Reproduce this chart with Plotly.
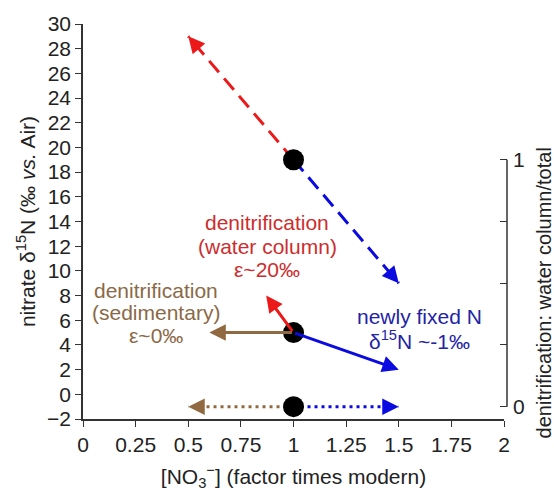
import math
import plotly.graph_objects as go

# Starting points: modern nitrate (factor 1) for three denitrification regimes
origin_x = [1, 1, 1]
origin_d15n = [19, 5, -1]

# Arrow end points (factor times modern, d15N) for each process
wc_denit_end = (0.5, 29)      # water-column denitrification, from the upper point
wc_fix_end = (1.5, 9)         # N fixation, from the upper point
mix_wc_end = (0.87, 8)        # water-column denitrification, mixed case
mix_sed_end = (0.6, 5)        # sedimentary denitrification, mixed case
mix_fix_end = (1.5, 2)        # N fixation, mixed case
sed_denit_end = (0.5, -1)     # sedimentary denitrification, lower point
sed_fix_end = (1.5, -1)       # N fixation, lower point

x_tickvals = [0, 0.25, 0.5, 0.75, 1, 1.25, 1.5, 1.75, 2]
x_ticktext = ["0", "0.25", "0.5", "0.75", "1", "1.25", "1.5", "1.75", "2"]
y_tickvals = list(range(-2, 31, 2))
frac_tickvals = [0, 0.25, 0.5, 0.75, 1]
frac_ticktext = ["0", "", "", "", "1"]

RED = "rgb(235,25,25)"
RED_TXT = "rgb(205,45,45)"
BLUE = "rgb(10,10,225)"
BLUE_TXT = "rgb(35,35,165)"
BROWN = "rgb(145,105,65)"
BROWN_TXT = "rgb(140,105,70)"
AXIS = "#333333"
FONT = "Liberation Sans, Arial, sans-serif"
FS = 21

# approximate pixels per data unit, used only to size the arrowhead stubs
PX_X, PX_Y = 210.0, 12.65

fig = go.Figure()
annotations = []


def arrow(start, end, color, dash=None):
    """Draw a line from start to end with an arrowhead at end."""
    if dash is not None:
        fig.add_trace(go.Scatter(
            x=[start[0], end[0]], y=[start[1], end[1]], mode="lines",
            line=dict(color=color, width=3, dash=dash),
            hoverinfo="skip", showlegend=False))
        # short stub so only the head is drawn at the tip
        length_px = math.hypot((end[0] - start[0]) * PX_X,
                               (end[1] - start[1]) * PX_Y)
        f = 11.0 / length_px
        back = (end[0] - f * (end[0] - start[0]),
                end[1] - f * (end[1] - start[1]))
    else:
        back = start
    annotations.append(dict(
        x=end[0], y=end[1], ax=back[0], ay=back[1],
        xref="x", yref="y", axref="x", ayref="y",
        text="", showarrow=True, arrowhead=2, arrowsize=1.1,
        arrowwidth=3, arrowcolor=color))


up = (origin_x[0], origin_d15n[0])
mid = (origin_x[1], origin_d15n[1])
low = (origin_x[2], origin_d15n[2])

DASH = "15px,8px"
DOT = "3px,4px"
arrow(up, wc_denit_end, RED, dash=DASH)
arrow(up, wc_fix_end, BLUE, dash=DASH)
arrow(mid, mix_wc_end, RED)
arrow(mid, mix_sed_end, BROWN)
arrow(mid, mix_fix_end, BLUE)
arrow(low, sed_denit_end, BROWN, dash=DOT)
arrow(low, sed_fix_end, BLUE, dash=DOT)

fig.add_trace(go.Scatter(
    x=origin_x, y=origin_d15n, mode="markers",
    marker=dict(color="black", size=21),
    hoverinfo="skip", showlegend=False))

# invisible trace carrying the right-hand axis
fig.add_trace(go.Scatter(
    x=[1, 1], y=[0, 1], yaxis="y2", mode="markers",
    marker=dict(opacity=0), hoverinfo="skip", showlegend=False))


def text_block(lines, x, y_top, color, spacing=1.9):
    for i, line in enumerate(lines):
        annotations.append(dict(
            x=x, y=y_top - i * spacing, xref="x", yref="y",
            text=line, showarrow=False,
            font=dict(family=FONT, size=FS, color=color)))


text_block(["denitrification", "(water column)", "ε~20‰"], 0.875, 13.9, RED_TXT)
text_block(["denitrification", "(sedimentary)", "ε~0‰"], 0.345, 8.4, BROWN_TXT, 1.8)
text_block(["newly fixed N", "δ<sup>15</sup>N ~-1‰"], 1.6, 6.3, BLUE_TXT)

# title of the right-hand axis, centred on its 0-1 span
annotations.append(dict(
    x=1.088, y=0.46, xref="paper", yref="y2", xanchor="center", yanchor="middle",
    text="denitrification: water column/total", textangle=-90, showarrow=False,
    font=dict(family=FONT, size=20, color="#222222")))

fig.update_layout(
    width=554, height=497,
    margin=dict(l=83, r=47, t=23, b=68),
    plot_bgcolor="white", paper_bgcolor="white",
    font=dict(family=FONT, size=FS, color="#222222"),
    annotations=annotations,
    shapes=[dict(type="line", xref="paper", yref="y2", x0=1, x1=1, y0=0, y1=1,
                 line=dict(color=AXIS, width=1.5))],
    xaxis=dict(
        domain=[0, 0.993],
        range=[0, 2], tickvals=x_tickvals, ticktext=x_ticktext,
        showline=True, linecolor=AXIS, linewidth=1.5, mirror=False,
        ticks="outside", ticklen=6, tickcolor=AXIS, showgrid=False, zeroline=False,
        title=dict(text="[NO<sub>3</sub><sup>−</sup>] (factor times modern)",
                   font=dict(size=FS), standoff=14),
    ),
    yaxis=dict(
        range=[-2, 30], tickvals=y_tickvals,
        showline=True, linecolor=AXIS, linewidth=1.5,
        ticks="outside", ticklen=6, tickcolor=AXIS, showgrid=False, zeroline=False,
        title=dict(text="nitrate δ<sup>15</sup>N (‰ <i>vs.</i> Air)",
                   font=dict(size=FS), standoff=6),
    ),
    yaxis2=dict(
        overlaying="y", side="right", anchor="free", position=1.0,
        range=[-0.05, 1.55], tickvals=frac_tickvals, ticktext=frac_ticktext,
        showline=False, ticks="inside", ticklen=7, tickcolor=AXIS,
        ticklabelstandoff=5,
        showgrid=False, zeroline=False,
    ),
)

fig.write_html("out.html")
